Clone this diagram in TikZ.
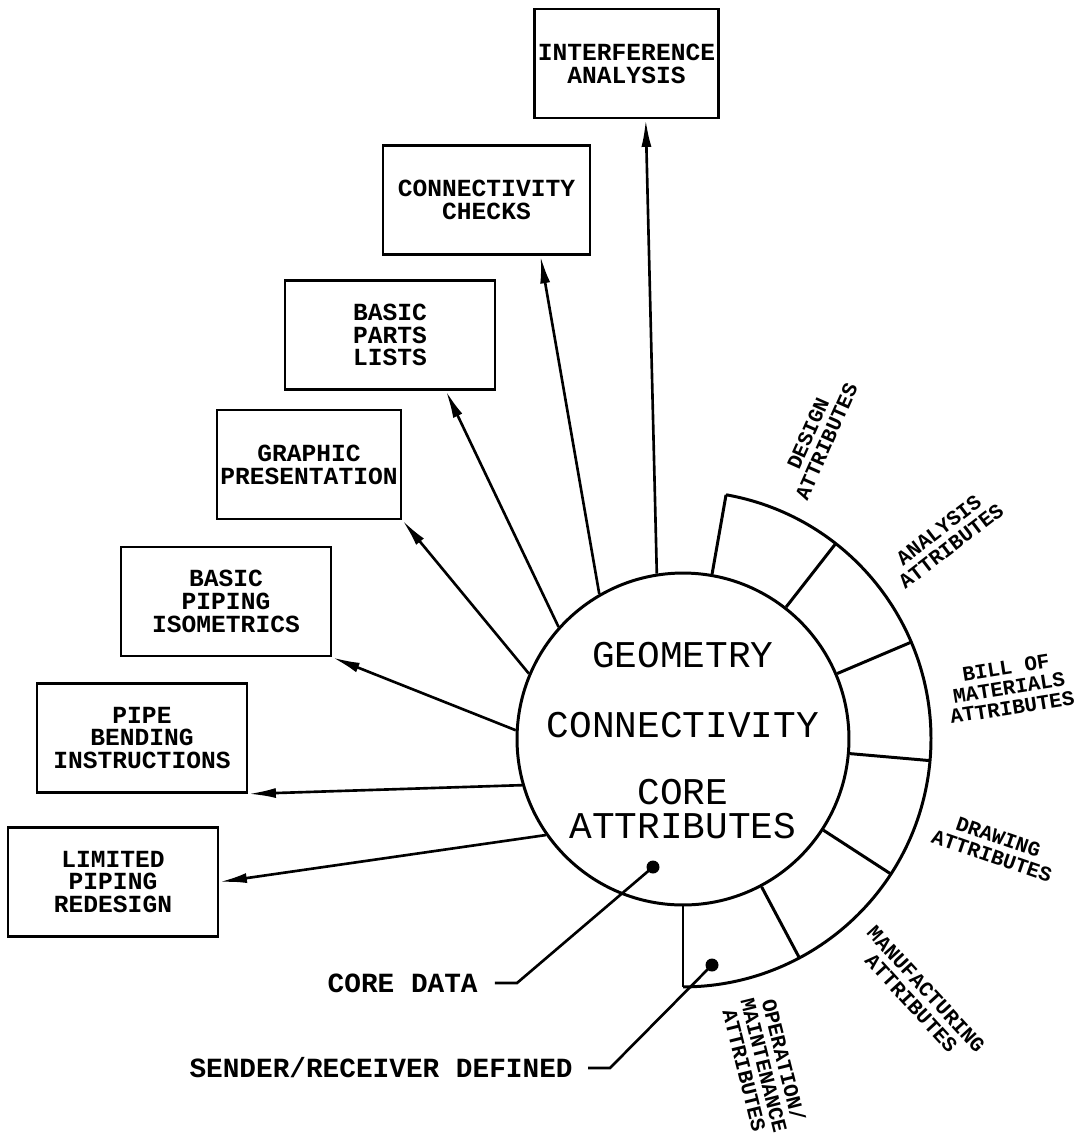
\documentclass[tikz,border=0pt]{standalone}
\usepackage{fontspec}
\setmonofont{Liberation Mono}
\usetikzlibrary{arrows.meta}

\begin{document}
\begin{tikzpicture}[x=0.02cm,y=0.02cm,
	box/.style={draw,line width=1.6pt,minimum width=4.2cm,minimum height=2.18cm,align=center,inner sep=2pt,font=\ttfamily\bfseries\fontsize{14}{13}\selectfont},
	lbl/.style={anchor=west,align=center,inner sep=0pt,font=\ttfamily\bfseries\fontsize{11.9}{11.5}\selectfont},
	big/.style={inner sep=0pt,font=\ttfamily\fontsize{21.5}{22}\selectfont},
	call/.style={anchor=east,inner sep=0pt,font=\ttfamily\bfseries\fontsize{15.8}{16}\selectfont},
	arr/.style={line width=1.5pt,-{Latex[length=0.55cm,width=0.2cm]}},
	lead/.style={line width=1.5pt},
	ring/.style={line width=1.7pt}]
	\useasboundingbox(0,0)rectangle(1077,-1134);
	\node[circle,draw,line width=1.7pt,minimum size=6.64cm,inner sep=0pt](core)at(683,-739){};
	\node[big](geo)at(683,-655){GEOMETRY};
	\node[big](connect)at(683,-725){CONNECTIVITY};
	\node[big](corea)at(683,-792){CORE};
	\node[big](coreb)at(683,-826){ATTRIBUTES};
	\node[box,minimum width=3.66cm](interf)at(626.5,-63.5){INTERFERENCE\\ANALYSIS};
	\node[box,minimum width=4.14cm](conn)at(486.5,-200){CONNECTIVITY\\CHECKS};
	\node[box](parts)at(390,-335){BASIC\\PARTS\\LISTS};
	\node[box,minimum width=3.64cm](graph)at(309,-464.5){GRAPHIC\\PRESENTATION};
	\node[box](iso)at(226,-601.5){BASIC\\PIPING\\ISOMETRICS};
	\node[box](bend)at(142,-738){PIPE\\BENDING\\INSTRUCTIONS};
	\node[box](limited)at(113,-882){LIMITED\\PIPING\\REDESIGN};
	\draw[arr](core.99)--(interf.-71);
	\draw[arr](core.120)--(conn.-46);
	\draw[arr](core.138)--(parts.-45);
	\draw[arr](core.157)--(graph.south east);
	\draw[arr](core.177)--(iso.south east);
	\draw[arr](core.196)--(bend.south east);
	\draw[arr](core.215)--(limited.east);
	\draw[ring]([shift={(80:248)}]core.center)arc[start angle=80,end angle=-90,radius=4.96cm];
	\foreach \a in {80,52,23,-5,-33,-62,-90}
		\draw[ring](core.\a)--([shift={(\a:248)}]core.center);
	\node[lbl,rotate=66](design)at([shift={(66:267)}]core.center){DESIGN\\ATTRIBUTES};
	\node[lbl,rotate=37.5](analysis)at([shift={(37.5:267)}]core.center){ANALYSIS\\ATTRIBUTES};
	\node[lbl,rotate=9](bill)at([shift={(9:267)}]core.center){BILL OF\\MATERIALS\\ATTRIBUTES};
	\node[lbl,rotate=-19](drawing)at([shift={(-19:267)}]core.center){DRAWING\\ATTRIBUTES};
	\node[lbl,rotate=-47.5](manuf)at([shift={(-47.5:267)}]core.center){MANUFACTURING\\ATTRIBUTES};
	\node[lbl,rotate=-76](oper)at([shift={(-76:267)}]core.center){OPERATION/\\MAINTENANCE\\ATTRIBUTES};
	\node[call](coredata)at(478,-983){CORE DATA};
	\node[call](sender)at(573,-1068){SENDER/RECEIVER DEFINED};
	\coordinate(cdot)at(653,-867);
	\coordinate(sdot)at(712,-965);
	\draw[lead]([xshift=0.34cm]coredata.east)--++(22,0)--(cdot);
	\draw[lead]([xshift=0.3cm]sender.east)--++(22,0)--(sdot);
	\fill(cdot)circle(0.13cm);
	\fill(sdot)circle(0.13cm);
\end{tikzpicture}
\end{document}
